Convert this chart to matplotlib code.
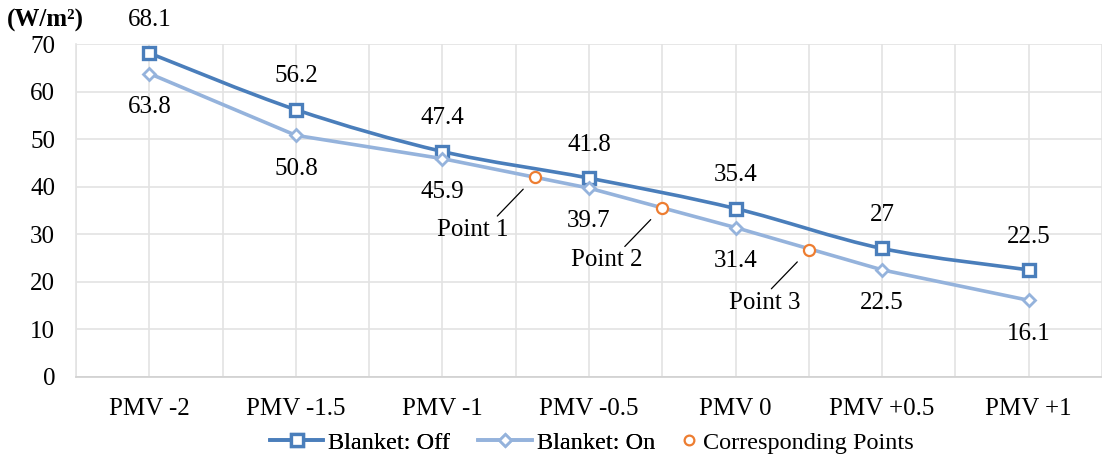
import numpy as np
import matplotlib
matplotlib.use("Agg")
import matplotlib.pyplot as plt
from matplotlib.path import Path
from matplotlib.patches import PathPatch
from matplotlib.lines import Line2D

categories = ["PMV -2", "PMV -1.5", "PMV -1", "PMV -0.5", "PMV 0", "PMV +0.5", "PMV +1"]
blanket_off = [68.1, 56.2, 47.4, 41.8, 35.4, 27, 22.5]
blanket_on = [63.8, 50.8, 45.9, 39.7, 31.4, 22.5, 16.1]
# corresponding points sit on the "blanket on" curve
corr_x = [2.63, 3.5, 4.5]
corr_y = [42.0, 35.6, 26.7]
corr_names = ["Point 1", "Point 2", "Point 3"]

c_off = "#4a7ebb"
c_on = "#95b3dc"
c_pts = "#ed7d31"

plt.rcParams["font.family"] = ["Liberation Serif", "DejaVu Serif"]
plt.rcParams["font.size"] = 18


def smooth_path(xs, ys):
    # bezier curve through every point, like a spreadsheet "smoothed line"
    pts = np.column_stack([xs, ys]).astype(float)
    n = len(pts)
    verts = [pts[0]]
    codes = [Path.MOVETO]
    for i in range(n - 1):
        p0 = pts[i - 1] if i > 0 else pts[i]
        p1 = pts[i]
        p2 = pts[i + 1]
        p3 = pts[i + 2] if i + 2 < n else pts[i + 1]
        c1 = p1 + (p2 - p0) / 6.0
        c2 = p2 - (p3 - p1) / 6.0
        verts += [c1, c2, p2]
        codes += [Path.CURVE4] * 3
    return Path(verts, codes)


fig = plt.figure(figsize=(11.02, 4.59), dpi=100)
ax = fig.add_axes([0.069, 0.179, 0.931, 0.725])

x = np.arange(len(categories))

ax.add_patch(PathPatch(smooth_path(x, blanket_off), fill=False, color=c_off, lw=2.6, zorder=3))
ax.plot(x, blanket_off, ls="none", marker="s", ms=9, mfc="white", mec=c_off, mew=2.4, zorder=4)
ax.plot(x, blanket_on, color=c_on, lw=2.6, marker="D", ms=6.5, mfc="white", mec=c_on, mew=2.0, zorder=4)
ax.plot(corr_x, corr_y, ls="none", marker="o", ms=8, mfc="white", mec=c_pts, mew=1.6, zorder=5)

for xi, v in zip(x, blanket_off):
    ax.annotate(f"{v:g}", (xi, v), xytext=(0, 24), textcoords="offset points",
                ha="center", va="center")
for xi, v in zip(x, blanket_on):
    ax.annotate(f"{v:g}", (xi, v), xytext=(0, -24), textcoords="offset points",
                ha="center", va="center")

# "Point n" labels with short leader lines
text_off = [(-45, -38), (-40, -38), (-32, -38)]
for px, py, name, off in zip(corr_x, corr_y, corr_names, text_off):
    ax.annotate(name, (px, py), xytext=off, textcoords="offset points",
                ha="center", va="center", fontsize=18)
    ax.annotate("", (px, py), xytext=(-27, -28), textcoords="offset points",
                arrowprops=dict(arrowstyle="-", color="black", lw=0.9,
                                shrinkA=0, shrinkB=12))

ax.set_xlim(-0.5, 6.45)
ax.set_ylim(0, 70)
ax.set_yticks(range(0, 71, 10))
ax.set_xticks(x)
ax.set_xticklabels(categories)
ax.set_xticks(np.arange(-0.5, 6.6, 0.5), minor=True)
ax.tick_params(axis="both", which="both", length=0)
ax.tick_params(axis="y", pad=15)
ax.tick_params(axis="x", pad=15)
ax.grid(True, which="both", axis="x", color="#e3e3e3", lw=1.2)
ax.grid(True, which="major", axis="y", color="#e3e3e3", lw=1.2)
ax.set_axisbelow(True)
for s in ["top", "right"]:
    ax.spines[s].set_visible(False)
ax.spines["left"].set_color("#e3e3e3")
ax.spines["left"].set_linewidth(1.2)
ax.spines["bottom"].set_color("#d0d0d0")
ax.spines["bottom"].set_linewidth(1.2)

fig.text(0.041, 0.956, "(W/m²)", fontweight="bold", ha="center", va="center")

line_handles = [
    Line2D([], [], color=c_off, lw=2.6, marker="s", ms=9, mfc="white", mec=c_off, mew=2.4),
    Line2D([], [], color=c_on, lw=2.6, marker="D", ms=6.5, mfc="white", mec=c_on, mew=2.0),
]
leg1 = fig.legend(line_handles, ["Blanket: Off", "Blanket: On"],
                  loc="center left", bbox_to_anchor=(0.234, 0.035), ncol=2, frameon=False,
                  fontsize=17.5, borderpad=0, handlelength=2.2, handletextpad=0.2,
                  columnspacing=1.15)
pt_handle = Line2D([], [], ls="none", marker="o", ms=7, mfc="white", mec=c_pts, mew=1.6)
fig.legend([pt_handle], ["Corresponding Points"],
           loc="center left", bbox_to_anchor=(0.603, 0.035), frameon=False,
           fontsize=17.5, borderpad=0, handlelength=1.0, handletextpad=0.1)
fig.add_artist(leg1)

fig.savefig("out.png", dpi=100)
